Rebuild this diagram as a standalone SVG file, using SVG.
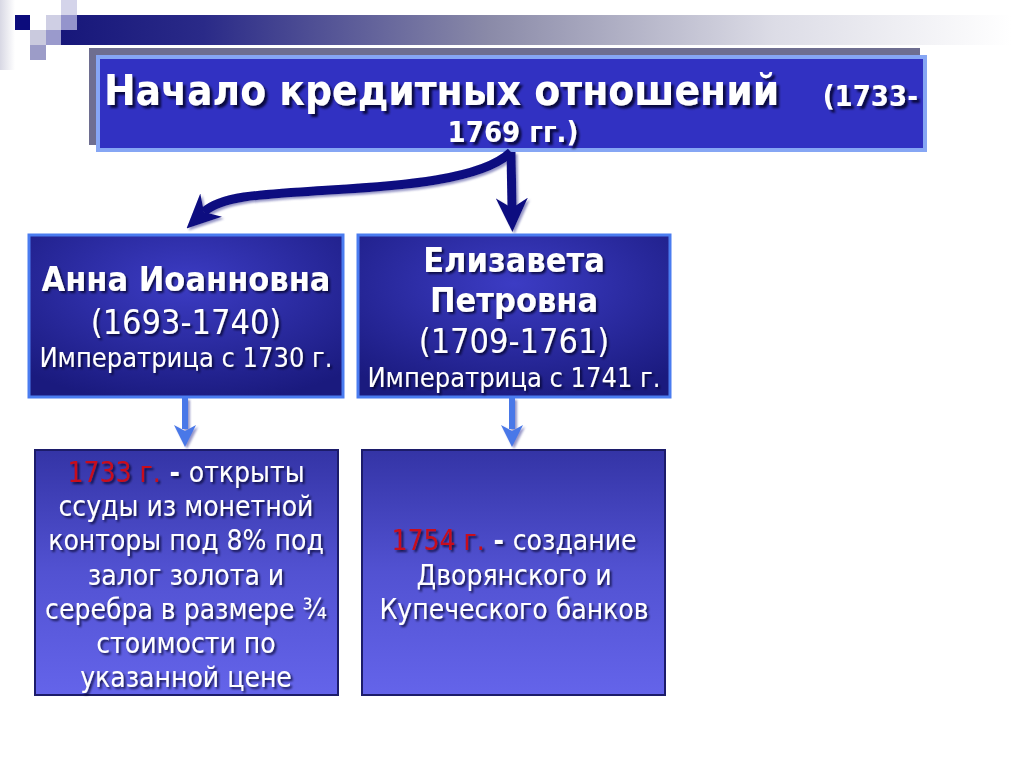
<svg xmlns="http://www.w3.org/2000/svg" width="1024" height="768" viewBox="0 0 1024 768">
<style>
.t{font-family:"DejaVu Sans Condensed","DejaVu Sans","Liberation Sans Narrow",sans-serif;fill:#ffffff;text-anchor:middle}
.b{font-weight:bold}
.red{fill:#c8101a}
</style>
<defs>
<linearGradient id="bar" x1="0" y1="0" x2="1" y2="0">
<stop offset="0" stop-color="#17177a"/>
<stop offset="0.15" stop-color="#2a2a88"/>
<stop offset="0.45" stop-color="#8a8aa8"/>
<stop offset="0.75" stop-color="#dcdce6"/>
<stop offset="1" stop-color="#ffffff"/>
</linearGradient>
<radialGradient id="mid" cx="0.5" cy="0.3" r="0.75">
<stop offset="0" stop-color="#3c3cc4"/>
<stop offset="1" stop-color="#1a1a7e"/>
</radialGradient>
<linearGradient id="low" x1="0" y1="0" x2="0" y2="1">
<stop offset="0" stop-color="#3434a6"/>
<stop offset="0.5" stop-color="#5252d2"/>
<stop offset="1" stop-color="#6464ea"/>
</linearGradient>
<linearGradient id="leftfade" x1="0" y1="0" x2="1" y2="0">
<stop offset="0" stop-color="#d8d8e4"/>
<stop offset="1" stop-color="#ffffff"/>
</linearGradient>
<filter id="sh" x="-10%" y="-20%" width="120%" height="150%">
<feDropShadow dx="2" dy="2" stdDeviation="1" flood-color="#000020" flood-opacity="0.75"/>
</filter>
<filter id="sh3" x="-10%" y="-20%" width="120%" height="150%">
<feDropShadow dx="3" dy="3" stdDeviation="1" flood-color="#000020" flood-opacity="0.8"/>
</filter>
<filter id="ash" x="-20%" y="-20%" width="140%" height="140%">
<feDropShadow dx="2" dy="2" stdDeviation="1" flood-color="#6a6ab0" flood-opacity="0.7"/>
</filter>
<marker id="bigHead" markerUnits="userSpaceOnUse" viewBox="0 0 34 32" markerWidth="34" markerHeight="32" refX="10" refY="16" orient="auto">
<path d="M0,0 L34,16 L0,32 L10,16 z" fill="#0a0a80"/>
</marker>
<marker id="smallHead" markerUnits="userSpaceOnUse" viewBox="0 0 22 22" markerWidth="22" markerHeight="22" refX="4" refY="11" orient="auto">
<path d="M0,0 L22,11 L0,22 L6,11 z" fill="#4a78e8"/>
</marker>
</defs>
<rect width="1024" height="768" fill="#ffffff"/>
<g id="decor">
<rect x="0" y="0" width="15" height="70" fill="url(#leftfade)"/>
<rect x="61" y="15" width="950" height="30" fill="url(#bar)"/>
<rect x="15" y="15" width="15" height="15" fill="#0c0c7c"/>
<rect x="46" y="15" width="15" height="15" fill="#cfcfe4"/>
<rect x="61" y="0" width="16" height="15" fill="#d4d4ea"/>
<rect x="61" y="15" width="16" height="15" fill="#9494cc"/>
<rect x="30" y="30" width="16" height="15" fill="#cacade"/>
<rect x="46" y="30" width="15" height="15" fill="#9a9acc"/>
<rect x="30" y="45" width="16" height="15" fill="#9c9cc8"/>
</g>
<g id="title">
<rect x="89" y="48" width="831" height="97" fill="#6e6e90"/>
<rect x="98" y="57" width="827" height="93" fill="#3131c2" stroke="#86a6f4" stroke-width="4"/>
<g filter="url(#sh3)">
<text class="t b" x="104" y="105" font-size="42" style="text-anchor:start">Начало кредитных отношений</text>
<text class="t b" x="918" y="106" font-size="29" style="text-anchor:end">(1733-</text>
<text class="t b" x="513" y="142" font-size="29">1769 гг.)</text>
</g>
</g>
<g id="connectors" filter="url(#ash)">
<path d="M511,152 C482,180 400,186 330,190 C268,194 222,195 204,212" fill="none" stroke="#0a0a80" stroke-width="9" marker-end="url(#bigHead)"/>
<path d="M511,152 L512,208" fill="none" stroke="#0a0a80" stroke-width="9" marker-end="url(#bigHead)"/>
<path d="M185,398 L185,429" fill="none" stroke="#4a78e8" stroke-width="6" marker-end="url(#smallHead)"/>
<path d="M512,398 L512,429" fill="none" stroke="#4a78e8" stroke-width="6" marker-end="url(#smallHead)"/>
</g>
<g id="anna">
<rect x="29" y="235" width="314" height="162" fill="url(#mid)" stroke="#4a7cf0" stroke-width="3"/>
<g filter="url(#sh)">
<text class="t b" x="186" y="291" font-size="34">Анна Иоанновна</text>
<text class="t" x="186" y="334" font-size="34">(1693-1740)</text>
<text class="t" x="186" y="367" font-size="27">Императрица с 1730 г.</text>
</g>
</g>
<g id="elizaveta">
<rect x="358" y="235" width="312" height="162" fill="url(#mid)" stroke="#4a7cf0" stroke-width="3"/>
<g filter="url(#sh)">
<text class="t b" x="514" y="272" font-size="34">Елизавета</text>
<text class="t b" x="514" y="312" font-size="34">Петровна</text>
<text class="t" x="514" y="353" font-size="34">(1709-1761)</text>
<text class="t" x="514" y="387" font-size="27">Императрица с 1741 г.</text>
</g>
</g>
<g id="loan1733">
<rect x="35" y="450" width="303" height="245" fill="url(#low)" stroke="#1c1c6a" stroke-width="2"/>
<g filter="url(#sh)" font-size="28">
<text class="t" x="186" y="482"><tspan class="red">1733 г.</tspan><tspan class="b"> - </tspan>открыты</text>
<text class="t" x="186" y="516">ссуды из монетной</text>
<text class="t" x="186" y="550">конторы под 8% под</text>
<text class="t" x="186" y="585">залог золота и</text>
<text class="t" x="186" y="619">серебра в размере ¾</text>
<text class="t" x="186" y="653">стоимости по</text>
<text class="t" x="186" y="687">указанной цене</text>
</g>
</g>
<g id="banks1754">
<rect x="362" y="450" width="303" height="245" fill="url(#low)" stroke="#1c1c6a" stroke-width="2"/>
<g filter="url(#sh)" font-size="28">
<text class="t" x="514" y="550"><tspan class="red">1754 г.</tspan><tspan class="b"> - </tspan>создание</text>
<text class="t" x="514" y="585">Дворянского и</text>
<text class="t" x="514" y="619">Купеческого банков</text>
</g>
</g>
</svg>
